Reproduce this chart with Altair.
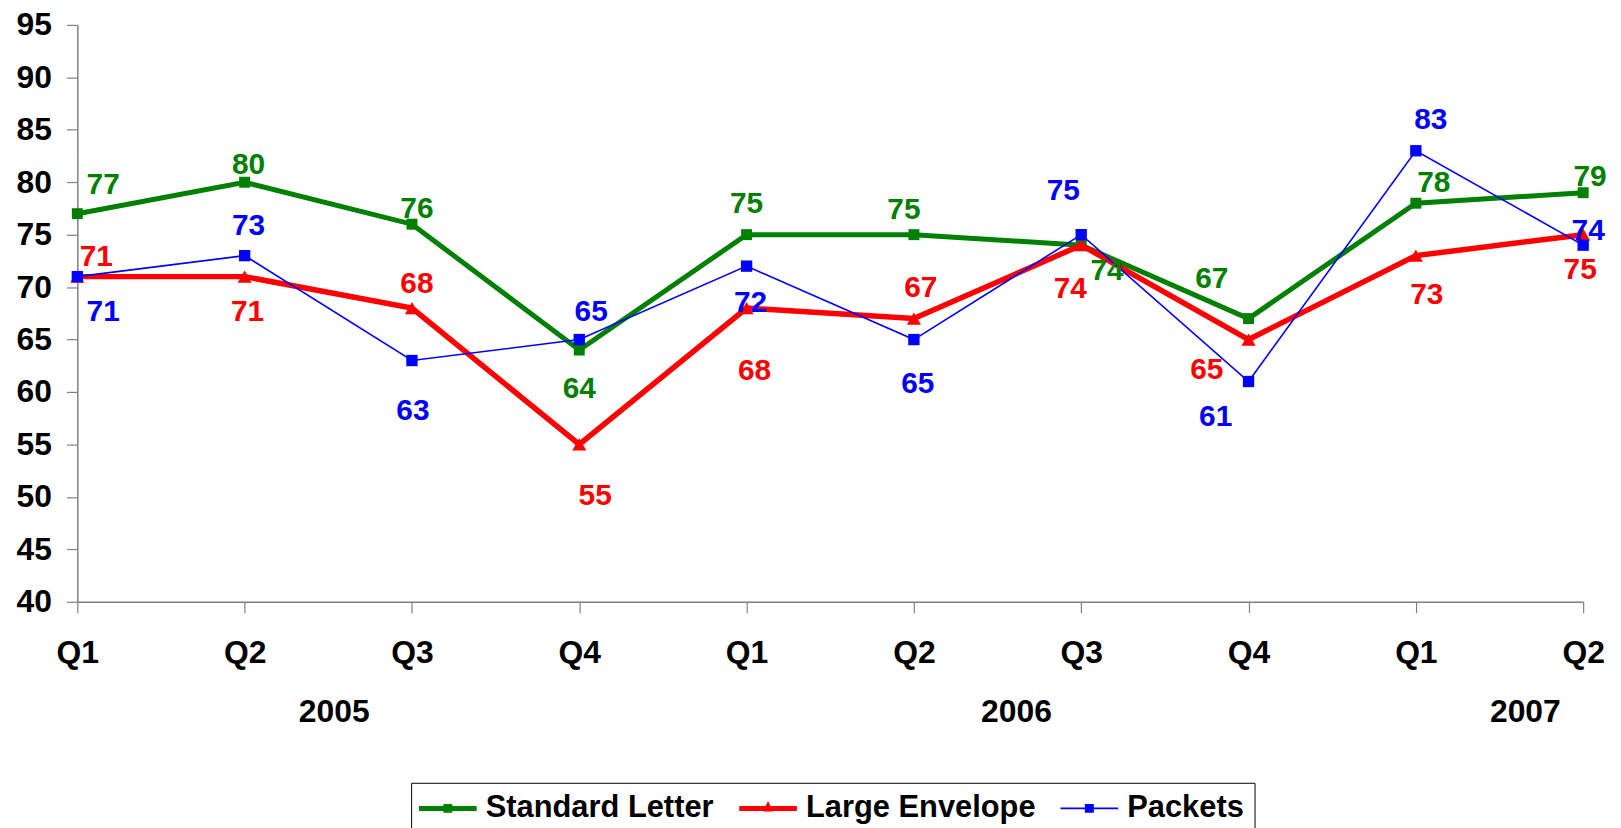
import json
import altair as alt
import pandas as pd

# ---------------- data ----------------
quarters = ["Q1", "Q2", "Q3", "Q4", "Q1", "Q2", "Q3", "Q4", "Q1", "Q2"]
quarter_years = ["2005", "2005", "2005", "2005", "2006", "2006", "2006", "2006", "2007", "2007"]
year_names = ["2005", "2006", "2007"]

series_names = ["Standard Letter", "Large Envelope", "Packets"]
standard_letter = [77, 80, 76, 64, 75, 75, 74, 67, 78, 79]
large_envelope = [71, 71, 68, 55, 68, 67, 74, 65, 73, 75]
packets = [71, 73, 63, 65, 72, 65, 75, 61, 83, 74]

# ---------------- styling ----------------
WIDTH, HEIGHT = 1514, 580
Y_MIN, Y_MAX = 40, 95
colors = ["#008000", "#FF0000", "#0000FF"]
stroke_widths = [5, 5.5, 1.6]
marker_shapes = ["square", "triangle-up", "square"]
marker_sizes = [121, 200, 130]

# label offsets in pixels (placement of each data label relative to its point)
label_dx = [
    [26, 4, 5, 0, 0, -10, 26, -37, 18, 7],
    [19, 3, 5, 16, 8, 7, -11, -42, 11, -3],
    [26, 4, 1, 12, 4, 4, -18, -33, 15, 5],
]
label_dy = [
    [-31, -19, -17, 37, -33, -27, 24, -42, -22, -18],
    [-22, 34, -26, 50, 61, -33, 42, 29, 38, 34],
    [34, -32, 49, -30, 35, 43, -46, 34, -33, -16],
]
year_dx = [6, 19, 26]

# legend symbols: line + marker, as custom SVG paths (unit = 10px)
legend_paths = [
    "M-2.9,-0.25H2.9V0.25H-2.9Z M-0.45,-0.45H0.45V0.45H-0.45Z",
    "M-2.9,-0.25H2.9V0.25H-2.9Z M0,-0.75L0.5,0.3H-0.5Z",
    "M-2.9,-0.08H2.9V0.08H-2.9Z M-0.45,-0.45H0.45V0.45H-0.45Z",
]

FONT = "Liberation Sans"
AXIS_FS = 32
LABEL_FS = 30

all_values = [standard_letter, large_envelope, packets]
rows = []
for s, name in enumerate(series_names):
    for i, v in enumerate(all_values[s]):
        rows.append({"idx": i, "quarter": quarters[i], "series": name, "value": v,
                     "dx": label_dx[s][i], "dy": label_dy[s][i]})
df = pd.DataFrame(rows)

year_pos = []
for y in year_names:
    ids = [i for i, qy in enumerate(quarter_years) if qy == y]
    year_pos.append(sum(ids) / len(ids))
df_years = pd.DataFrame({"year": year_names, "pos": year_pos, "ydx": year_dx})

STEP = WIDTH / (len(quarters) - 1)          # pixels per category step
PXU = HEIGHT / (Y_MAX - Y_MIN)              # pixels per value unit

# ---------------- encodings ----------------
x_scale = alt.Scale(domain=[0, len(quarters) - 1], nice=False, zero=False)
y_scale = alt.Scale(domain=[Y_MIN, Y_MAX], nice=False, zero=False)
x_axis = alt.Axis(
    values=list(range(len(quarters))),
    labelExpr=json.dumps(quarters) + "[datum.value]",
    title=None, grid=False,
    domainColor="#808080", domainWidth=1.5,
    tickColor="#808080", tickSize=11, tickWidth=1.2,
    labelFont=FONT, labelFontSize=AXIS_FS, labelFontWeight="bold", labelColor="black",
    labelPadding=25, labelFlush=False, labelOverlap=False,
)
y_axis = alt.Axis(
    values=list(range(Y_MIN, Y_MAX + 1, 5)),
    title=None, grid=False,
    domainColor="#808080", domainWidth=1.5,
    tickColor="#808080", tickSize=11, tickWidth=1.2,
    labelFont=FONT, labelFontSize=AXIS_FS, labelFontWeight="bold", labelColor="black",
    labelPadding=15, labelFlush=False, labelOverlap=False,
)


def X(field):
    return alt.X(field, scale=x_scale, axis=x_axis)


def Y(field):
    return alt.Y(field, scale=y_scale, axis=y_axis)


layers = []
texts = []
for s, name in enumerate(series_names):
    base = alt.Chart(df).transform_filter(alt.datum.series == name)
    layers.append(base.mark_line(color=colors[s], strokeWidth=stroke_widths[s]).encode(
        x=X("idx:Q"), y=Y("value:Q")))
    layers.append(base.mark_point(filled=True, shape=marker_shapes[s], size=marker_sizes[s],
                                  color=colors[s], opacity=1).encode(x=X("idx:Q"), y=Y("value:Q")))
    texts.append(base.transform_calculate(
        lx=f"datum.idx + datum.dx / {STEP}",
        ly=f"datum.value - datum.dy / {PXU}",
    ).mark_text(font=FONT, fontSize=LABEL_FS, fontWeight="bold", color=colors[s],
                align="center", baseline="middle", dy=2).encode(
        x=X("lx:Q"), y=Y("ly:Q"), text="value:Q"))

years = alt.Chart(df_years).transform_calculate(
    px=f"datum.pos + datum.ydx / {STEP}"
).mark_text(font=FONT, fontSize=AXIS_FS, fontWeight="bold", color="black",
            align="center", baseline="alphabetic").encode(
    x=X("px:Q"),
    y=alt.value(701),
    text="year:N",
)

leg = alt.Legend(
    title=None, orient="none", legendX=335.6, legendY=762, direction="horizontal",
    strokeColor="black", padding=10,
    symbolSize=400, symbolOffset=11.4, symbolStrokeWidth=0,
    labelOffset=22.6, columnPadding=24,
    labelFont=FONT, labelFontSize=31, labelFontWeight="bold", labelColor="black", labelLimit=600,
)
legend_layer = alt.Chart(df).transform_filter("datum.idx < 0").mark_point(
    filled=True, opacity=1, size=400).encode(
    color=alt.Color("series:N", scale=alt.Scale(domain=series_names, range=colors), legend=leg),
    shape=alt.Shape("series:N", scale=alt.Scale(domain=series_names, range=legend_paths), legend=leg),
)

chart = alt.layer(*layers, *texts, years, legend_layer).properties(
    width=WIDTH, height=HEIGHT,
    autosize=alt.AutoSizeParams(type="none"),
    padding={"left": 69.7, "top": 14.7, "right": 30, "bottom": 250},
).configure_view(stroke=None)

chart.save("out.html", embed_options={"renderer": "svg", "actions": False})
